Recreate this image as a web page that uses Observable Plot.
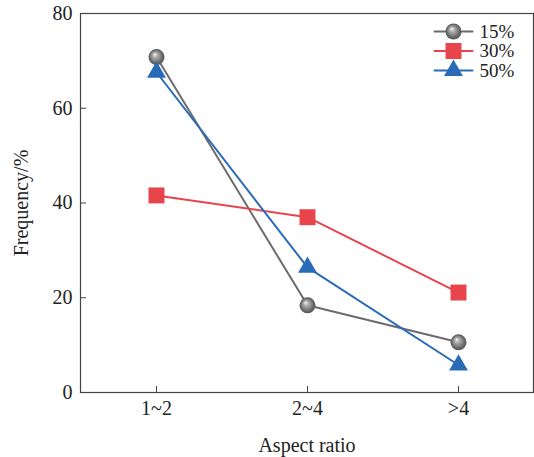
<!DOCTYPE html>
<html>
<head>
<meta charset="utf-8">
<script src="https://cdn.jsdelivr.net/npm/d3@7"></script>
<script src="https://cdn.jsdelivr.net/npm/@observablehq/plot@0.6"></script>
<style>
  html, body { margin: 0; padding: 0; background: #fff; }
  #chart { width: 534px; height: 457px; }
</style>
</head>
<body>
<div id="chart"></div>
<script>
const categories = ["1~2", "2~4", ">4"];
const seriesNames = ["15%", "30%", "50%"];
const values15 = [70.8, 18.4, 10.6];
const values30 = [41.6, 37.0, 21.1];
const values50 = [67.6, 26.4, 5.8];
const yTicks = [0, 20, 40, 60, 80];

const seriesValues = [values15, values30, values50];
const colors = ["#6b6b6b", "#e8444b", "#2a6bb8"];
const symbols = ["circle", "square", "triangle"];
const radii = [8, 9, 7];
const fills = ["url(#sphere)", "#e8444b", "#2a6bb8"];

const data = [];
seriesNames.forEach((s, i) => categories.forEach((c, j) => data.push({series: s, cat: c, value: seriesValues[i][j]})));

const font = "'Liberation Serif', 'Times New Roman', serif";

const marks = [
  Plot.frame({stroke: "#444", strokeWidth: 1.2}),
  Plot.axisY({ticks: yTicks, tickSize: -6, tickPadding: 14, stroke: "#444", fill: "#222",
    label: "Frequency/%", labelAnchor: "center", labelArrow: "none", labelOffset: 67}),
  Plot.axisX({tickSize: -6, tickPadding: 14, stroke: "#444", fill: "#222",
    label: "Aspect ratio", labelAnchor: "center", labelArrow: "none", labelOffset: 59})
];

seriesNames.forEach((s, i) => {
  const d = data.filter(r => r.series === s);
  marks.push(Plot.line(d, {x: "cat", y: "value", stroke: colors[i], strokeWidth: 2}));
});
seriesNames.forEach((s, i) => {
  const d = data.filter(r => r.series === s);
  marks.push(Plot.dot(d, {x: "cat", y: "value", symbol: symbols[i], r: radii[i], fill: fills[i], stroke: "none"}));
});

// legend
const legendShape = {draw(context, l) { context.moveTo(0, 0); context.lineTo(0, -l); }};
seriesNames.forEach((s, i) => {
  const dy = 18 + i * 19.5;
  marks.push(Plot.vector([s], {frameAnchor: "top-right", dx: -80, dy, length: 38, rotate: 90, anchor: "middle",
    shape: legendShape, stroke: colors[i], strokeWidth: 2}));
  marks.push(Plot.dot([s], {frameAnchor: "top-right", dx: -80, dy, symbol: symbols[i], r: radii[i], fill: fills[i], stroke: "none"}));
  marks.push(Plot.text([s], {frameAnchor: "top-right", dx: -54, dy, text: d => d, textAnchor: "start",
    lineAnchor: "middle", fontSize: 19, fill: "#222"}));
});

const chart = Plot.plot({
  width: 534,
  height: 457,
  marginTop: 13,
  marginBottom: 65,
  marginLeft: 80,
  marginRight: 1,
  style: {fontFamily: font, fontSize: "20px", color: "#222", background: "#fff"},
  x: {type: "point", domain: categories, padding: 0.5},
  y: {domain: [0, 80]},
  marks
});

const ns = "http://www.w3.org/2000/svg";
const defs = document.createElementNS(ns, "defs");
defs.innerHTML = `<radialGradient id="sphere" cx="0.5" cy="0.5" r="0.5" fx="0.38" fy="0.32">
  <stop offset="0" stop-color="#f6f6f6"/>
  <stop offset="0.3" stop-color="#b0b0b0"/>
  <stop offset="0.8" stop-color="#686868"/>
  <stop offset="1" stop-color="#555"/>
</radialGradient>`;
chart.insertBefore(defs, chart.firstChild);
document.getElementById("chart").appendChild(chart);
</script>
</body>
</html>
